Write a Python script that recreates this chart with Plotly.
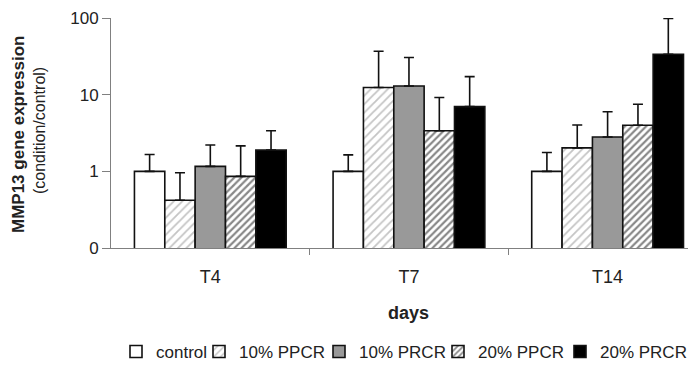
import plotly.graph_objects as go

categories = ["T4", "T7", "T14"]
series = ["control", "10% PPCR", "10% PRCR", "20% PPCR", "20% PRCR"]
values = {
    "control":  [1.0, 1.0, 1.0],
    "10% PPCR": [0.42, 12.4, 2.02],
    "10% PRCR": [1.16, 13.0, 2.8],
    "20% PPCR": [0.86, 3.38, 4.0],
    "20% PRCR": [1.89, 6.98, 33.7],
}
errors_up = {
    "control":  [0.66, 0.64, 0.76],
    "10% PPCR": [0.54, 24.5, 2.0],
    "10% PRCR": [1.05, 17.5, 3.2],
    "20% PPCR": [1.29, 5.8, 3.5],
    "20% PRCR": [1.49, 10.2, 65.0],
}
y_tickvals = [0.1, 1, 10, 100]
y_ticktext = ["0", "1", "10", "100"]

FONT = "Arial, Liberation Sans, sans-serif"
TXT = "#222222"

styles = {
    "control":  dict(color="white"),
    "10% PPCR": dict(color="white", pattern=dict(shape="/", fgcolor="#8a8a8a", bgcolor="white", size=6, solidity=0.3)),
    "10% PRCR": dict(color="#999999"),
    "20% PPCR": dict(color="white", pattern=dict(shape="/", fgcolor="#111111", bgcolor="white", size=5, solidity=0.45)),
    "20% PRCR": dict(color="black"),
}

# The page body has an 8px margin, so the figure is drawn 8px smaller
W, H = 688, 359
L, R, T, B = 103, 0, 10, 119
legend_left_px = [108, 191, 311, 430, 552]   # left edge of each legend entry (figure px)
legend_center_y_px = 344

def px_to_paper_x(p):
    return (p - L) / (W - L - R)

def px_to_paper_y(p):
    return (H - B - p) / (H - B - T)

xpos = list(range(len(categories)))
fig = go.Figure()
legend_layouts = {}
for i, s in enumerate(series):
    m = dict(styles[s])
    m["line"] = dict(color="#111111", width=1.6)
    lname = "legend" if i == 0 else f"legend{i + 1}"
    fig.add_trace(go.Bar(
        name=s, x=xpos, y=values[s], marker=m, legend=lname,
        error_y=dict(type="data", symmetric=False, array=errors_up[s],
                     arrayminus=[0] * len(categories), color="#111111",
                     thickness=1.6, width=5),
    ))
    legend_layouts[lname] = dict(
        orientation="h", x=px_to_paper_x(legend_left_px[i]), xanchor="left",
        y=px_to_paper_y(legend_center_y_px), yanchor="middle",
        font=dict(family=FONT, size=17, color=TXT), bgcolor="rgba(0,0,0,0)",
        itemwidth=30, borderwidth=0,
    )

fig.update_layout(
    width=W, height=H,
    margin=dict(l=L, r=R, t=T, b=B, autoexpand=False),
    paper_bgcolor="white", plot_bgcolor="white",
    barmode="group", bargap=0.236, bargroupgap=0,
    font=dict(family=FONT, size=18, color=TXT),
    showlegend=True,
    xaxis=dict(range=[-0.5, 2.445], tickvals=xpos, ticktext=categories,
               ticks="", showline=True, linecolor="#808080", linewidth=1,
               showgrid=False, zeroline=False, ticklabelstandoff=12,
               tickfont=dict(size=18),
               minor=dict(tickvals=[0.5, 1.5], ticks="outside", ticklen=6,
                          tickcolor="#808080", showgrid=False)),
    yaxis=dict(type="log", range=[-1, 2], tickvals=y_tickvals, ticktext=y_ticktext,
               ticks="outside", ticklen=8, tickcolor="#808080",
               showline=True, linecolor="#808080", linewidth=1,
               showgrid=False, zeroline=False, tickfont=dict(size=17),
               ticklabeloverflow="allow"),
    **legend_layouts,
)

fig.add_annotation(text="<b>days</b>", x=1, xref="x", y=0, yref="paper",
                   yanchor="middle", yshift=-65, showarrow=False,
                   font=dict(family=FONT, size=18, color=TXT))
fig.add_annotation(text="<b>MMP13 gene expression</b>", x=0, xref="paper", xanchor="center",
                   xshift=-93, y=0.5, yref="paper", yanchor="middle", yshift=-2,
                   textangle=-90, showarrow=False,
                   font=dict(family=FONT, size=17, color=TXT))
fig.add_annotation(text="(condition/control)", x=0, xref="paper", xanchor="center",
                   xshift=-72, y=0.5, yref="paper", yanchor="middle", yshift=2,
                   textangle=-90, showarrow=False,
                   font=dict(family=FONT, size=16, color=TXT))

fig.write_html("out.html")
